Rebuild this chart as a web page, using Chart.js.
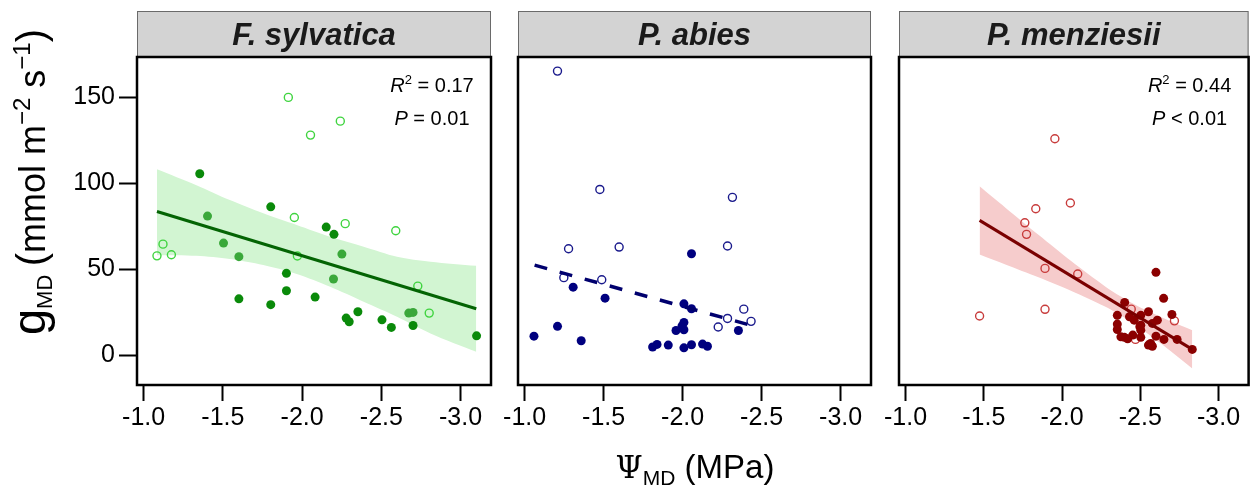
<!DOCTYPE html>
<html><head><meta charset="utf-8">
<script src="https://cdn.jsdelivr.net/npm/chart.js@4.4.0/dist/chart.umd.min.js"></script>
<style>
html,body{margin:0;padding:0;background:#fff;}
#wrap{position:relative;width:1254px;height:486px;overflow:hidden;}
.panel{position:absolute;top:0;height:486px;}
</style></head><body>
<div id="wrap">
<div class="panel" style="left:0;width:500px"><canvas id="c1"></canvas></div>
<div class="panel" style="left:500px;width:380px"><canvas id="c2"></canvas></div>
<div class="panel" style="left:880px;width:374px"><canvas id="c3"></canvas></div>
</div>
<script>
// ---------- shared axis definitions ----------
const xTicks = [-1.0, -1.5, -2.0, -2.5, -3.0];
const xTickLabels = ['-1.0', '-1.5', '-2.0', '-2.5', '-3.0'];
const yTicks = [0, 50, 100, 150];
const yTickLabels = ['0', '50', '100', '150'];
const panelTitles = ['F. sylvatica', 'P. abies', 'P. menziesii'];

// ---------- F. sylvatica ----------
const fsOpenX = [-1.913, -2.241, -2.053, -1.951, -2.272, -2.591, -1.122, -1.084, -1.175, -1.970, -2.730, -2.802];
const fsOpenY = [149.8, 136.0, 127.9, 80.0, 76.4, 72.3, 64.5, 57.7, 58.3, 57.6, 40.1, 24.4];
const fsDarkX = [-1.354, -1.802, -1.601, -1.802, -1.901, -1.901, -2.082, -2.152, -2.201, -2.278, -2.297, -2.352, -2.504, -2.563, -2.700, -3.101];
const fsDarkY = [105.4, 86.2, 32.7, 29.3, 47.5, 37.4, 33.7, 74.4, 70.2, 21.5, 19.4, 25.2, 20.5, 16.1, 17.2, 11.2];
const fsMidX = [-1.403, -1.504, -1.601, -2.251, -2.198, -2.673, -2.700];
const fsMidY = [80.8, 65.1, 57.2, 58.7, 44.2, 24.4, 24.8];
const fsFitX = [-1.084, -3.099];
const fsFitY = [83.5, 26.9];
const fsBandX = [-1.084, -1.333, -1.544, -1.755, -1.966, -2.177, -2.388, -2.599, -2.810, -3.099];
const fsBandUpper = [108.1, 98.8, 90.1, 82.4, 75.6, 68.8, 63.0, 57.2, 54.3, 51.9];
const fsBandLower = [58.1, 57.7, 55.8, 52.3, 47.1, 39.7, 31.0, 22.3, 12.6, 1.9];
const fsR2 = '0.17';
const fsP = '= 0.01';

// ---------- P. abies ----------
const paOpenX = [-1.208, -1.476, -2.315, -1.278, -1.598, -2.284, -1.248, -1.488, -2.387, -2.284, -2.225, -2.433];
const paOpenY = [165.1, 96.3, 91.7, 61.8, 62.8, 63.4, 45.0, 43.8, 26.7, 21.3, 16.3, 19.6];
const paFillX = [-2.056, -1.307, -1.509, -2.008, -2.056, -2.008, -1.996, -1.958, -2.008, -1.208, -1.059, -1.358, -2.353, -1.810, -1.838, -1.909, -2.008, -2.056, -2.126, -2.157];
const paFillY = [58.9, 39.5, 33.1, 29.8, 26.9, 19.0, 16.9, 14.3, 14.7, 16.7, 11.0, 8.3, 14.3, 4.7, 6.2, 5.8, 4.2, 6.0, 6.4, 5.1];
const paFitX = [-1.063, -2.431];
const paFitY = [52.3, 17.3];

// ---------- P. menziesii ----------
const pmOpenX = [-1.954, -2.053, -1.832, -1.762, -1.773, -1.891, -2.100, -1.891, -1.473, -2.442, -2.718, -2.469];
const pmOpenY = [125.8, 88.4, 85.1, 76.9, 70.2, 50.4, 47.1, 26.6, 22.7, 26.7, 19.9, 9.1];
const pmFillX = [-2.600, -2.649, -2.400, -2.552, -2.702, -2.353, -2.431, -2.503, -2.609, -2.577, -2.353, -2.503, -2.353, -2.503, -2.452, -2.398, -2.419, -2.503, -2.600, -2.651, -2.735, -2.552, -2.577, -2.566, -2.832, -2.497, -2.376, -2.461];
const pmFillY = [48.1, 33.0, 30.6, 25.2, 23.6, 23.1, 22.3, 23.1, 20.3, 18.4, 18.0, 17.4, 14.9, 14.5, 11.6, 10.3, 9.5, 10.3, 11.0, 9.1, 9.1, 5.8, 5.1, 6.8, 3.3, 16.5, 10.6, 20.3];
const pmFitX = [-1.473, -2.832];
const pmFitY = [78.3, 3.3];
const pmBandX = [-1.473, -1.638, -1.849, -2.060, -2.271, -2.376, -2.482, -2.693, -2.832];
const pmBandUpper = [98.1, 85.7, 69.9, 54.5, 40.2, 34.0, 28.5, 19.6, 14.4];
const pmBandLower = [58.5, 52.7, 45.2, 37.3, 28.4, 23.0, 16.7, 2.4, -7.8];
const pmR2 = '0.44';
const pmP = '< 0.01';

// ---------- helpers ----------
const SANS = '"Liberation Sans", Arial, Helvetica, sans-serif';
const SERIF = '"DejaVu Serif", "Liberation Serif", serif';
const pts = (xs, ys) => xs.map((x, i) => ({x: x, y: ys[i]}));

function drawRuns(ctx, runs, cx, y, align) {
  let total = 0;
  runs.forEach(r => { ctx.font = r.f; r.w = ctx.measureText(r.t).width; total += r.w; });
  let x = align === 'left' ? cx : cx - total / 2;
  ctx.textAlign = 'left';
  ctx.textBaseline = 'alphabetic';
  runs.forEach(r => { ctx.font = r.f; ctx.fillText(r.t, x, y + (r.dy || 0)); x += r.w; });
}

const deco = {
  id: 'deco',
  afterDraw(chart, args, o) {
    const ctx = chart.ctx, a = chart.chartArea;
    ctx.save();
    // strip header
    ctx.fillStyle = '#d3d3d3';
    ctx.fillRect(a.left, 11, a.right - a.left, 45);
    ctx.strokeStyle = '#6a6a6a'; ctx.lineWidth = 1;
    ctx.strokeRect(a.left + 0.5, 11.5, a.right - a.left - 1, 45);
    ctx.fillStyle = '#1a1a1a';
    ctx.font = 'italic bold 31px ' + SANS;
    ctx.textAlign = 'center'; ctx.textBaseline = 'alphabetic';
    ctx.fillText(o.title, (a.left + a.right) / 2, 45);
    // frame
    ctx.strokeStyle = '#000'; ctx.lineWidth = 2.5;
    ctx.strokeRect(a.left, a.top, a.right - a.left, a.bottom - a.top);
    // annotation
    ctx.fillStyle = '#000';
    if (o.r2) {
      const cx = a.right - 59;
      drawRuns(ctx, [
        {t: 'R', f: 'italic 20px ' + SANS},
        {t: '2', f: '13px ' + SANS, dy: -8},
        {t: ' = ' + o.r2, f: '20px ' + SANS}
      ], cx, a.top + 35);
      drawRuns(ctx, [
        {t: 'P', f: 'italic 20px ' + SANS},
        {t: ' ' + o.p, f: '20px ' + SANS}
      ], cx, a.top + 68);
    }
    // y title
    if (o.yTitle) {
      ctx.save();
      ctx.translate(45, 182);
      ctx.rotate(-Math.PI / 2);
      drawRuns(ctx, [
        {t: 'g', f: '47px ' + SANS},
        {t: 'MD', f: '22px ' + SANS, dy: 7},
        {t: ' ', f: '30px ' + SANS},
        {t: '(', f: '40px ' + SANS},
        {t: 'mmol m', f: '36px ' + SANS},
        {t: '\u22122', f: '24px ' + SANS, dy: -15},
        {t: ' s', f: '36px ' + SANS},
        {t: '\u22121', f: '24px ' + SANS, dy: -15},
        {t: ')', f: '40px ' + SANS}
      ], 0, 0);
      ctx.restore();
    }
    // x title
    if (o.xTitleCx !== undefined) {
      drawRuns(ctx, [
        {t: '\u03A8', f: '31px ' + SERIF},
        {t: 'MD', f: '21px ' + SANS, dy: 7},
        {t: ' (MPa)', f: '33px ' + SANS}
      ], o.xTitleCx, 478);
    }
    ctx.restore();
  }
};

function makeChart(id, datasets, opts) {
  const showY = !!opts.showY;
  return new Chart(document.getElementById(id), {
    type: 'scatter',
    data: {datasets: datasets},
    plugins: [deco],
    options: {
      responsive: true,
      maintainAspectRatio: false,
      animation: false,
      events: [],
      layout: {padding: {top: 57, left: opts.padLeft, right: opts.padRight, bottom: 0}},
      plugins: {
        legend: {display: false},
        tooltip: {enabled: false},
        deco: opts.deco
      },
      scales: {
        x: {
          type: 'linear',
          reverse: true,
          min: -3.192,
          max: -0.958,
          afterBuildTicks: s => { s.ticks = xTicks.map(v => ({value: v})); },
          afterFit: s => { s.height = 101; },
          grid: {display: true, drawOnChartArea: false, drawTicks: true, tickLength: 16, tickWidth: 2, tickColor: '#000'},
          border: {display: false},
          ticks: {
            color: '#000', padding: 2,
            font: {family: SANS, size: 25},
            maxRotation: 0, autoSkip: false,
            callback: v => { const i = xTicks.indexOf(v); return i >= 0 ? xTickLabels[i] : ''; }
          }
        },
        y: {
          type: 'linear',
          display: showY,
          min: -17.4,
          max: 173.3,
          afterBuildTicks: s => { s.ticks = yTicks.map(v => ({value: v})); },
          afterFit: s => { s.width = showY ? 137 : 0; },
          grid: {display: true, drawOnChartArea: false, drawTicks: true, tickLength: 18, tickWidth: 2, tickColor: '#000'},
          border: {display: false},
          ticks: {
            color: '#000', padding: 4,
            font: {family: SANS, size: 25},
            callback: v => { const i = yTicks.indexOf(v); return i >= 0 ? yTickLabels[i] : ''; }
          }
        }
      }
    }
  });
}

function bandSets(xs, up, lo, color) {
  return [
    {type: 'line', data: pts(xs, up), showLine: true, pointRadius: 0, borderWidth: 0, borderColor: 'rgba(0,0,0,0)', backgroundColor: color, fill: '+1', tension: 0.3, order: 10},
    {type: 'line', data: pts(xs, lo), showLine: true, pointRadius: 0, borderWidth: 0, borderColor: 'rgba(0,0,0,0)', fill: false, tension: 0.3, order: 11}
  ];
}
function fitSet(xs, ys, color, width, dash) {
  return {type: 'line', data: pts(xs, ys), showLine: true, pointRadius: 0, borderColor: color, borderWidth: width, borderDash: dash || [], fill: false, order: 1};
}
function openSet(xs, ys, color) {
  return {data: pts(xs, ys), pointRadius: 4, pointBorderWidth: 1.4, pointBorderColor: color, pointBackgroundColor: 'rgba(0,0,0,0)', order: 3};
}
function fillSet(xs, ys, color) {
  return {data: pts(xs, ys), pointRadius: 4.5, pointBorderWidth: 0, pointBorderColor: color, pointBackgroundColor: color, order: 2};
}

makeChart('c1', [
  ...bandSets(fsBandX, fsBandUpper, fsBandLower, '#d2f5d2'),
  openSet(fsOpenX, fsOpenY, '#3fd43f'),
  fillSet(fsMidX, fsMidY, '#3aa83a'),
  fillSet(fsDarkX, fsDarkY, '#0a8a0a'),
  fitSet(fsFitX, fsFitY, '#046404', 3)
], {showY: true, padLeft: 0, padRight: 9, deco: {title: panelTitles[0], r2: fsR2, p: fsP, yTitle: true}});

makeChart('c2', [
  openSet(paOpenX, paOpenY, '#1a1a8c'),
  fillSet(paFillX, paFillY, '#00007f'),
  fitSet(paFitX, paFitY, '#00006e', 3.5, [13, 13])
], {showY: false, padLeft: 18, padRight: 9, deco: {title: panelTitles[1], xTitleCx: 195}});

makeChart('c3', [
  ...bandSets(pmBandX, pmBandUpper, pmBandLower, '#f6cccc'),
  openSet(pmOpenX, pmOpenY, '#c83c3c'),
  fillSet(pmFillX, pmFillY, '#8b0000'),
  fitSet(pmFitX, pmFitY, '#7a0000', 3)
], {showY: false, padLeft: 19, padRight: 2, deco: {title: panelTitles[2], r2: pmR2, p: pmP}});
</script>
</body></html>
